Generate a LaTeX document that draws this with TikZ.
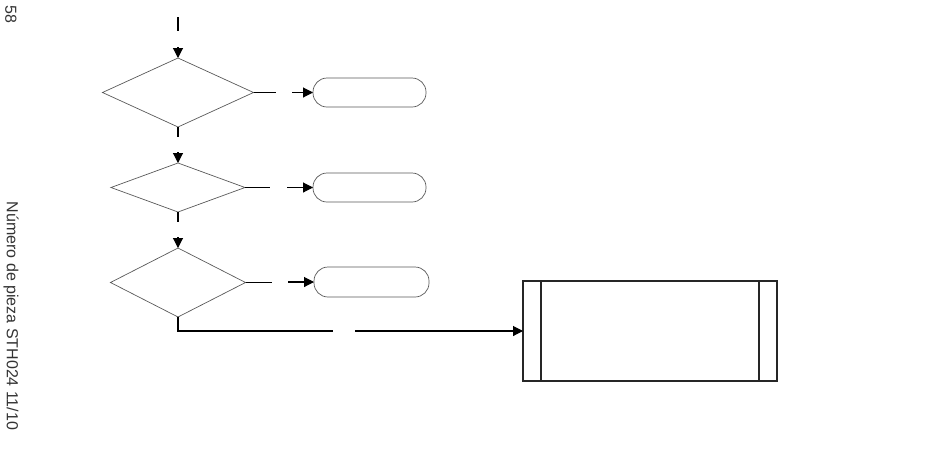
\documentclass[tikz,border=0pt]{standalone}
\usepackage{fontspec}
\setmainfont{Liberation Sans}
\usetikzlibrary{shapes,arrows.meta,positioning,calc}

\begin{document}
\begin{tikzpicture}[x=1pt,y=-1pt,
    decision/.style={diamond, draw=black!65, line width=0.7pt, inner sep=0pt, outer sep=0pt},
    terminal/.style={rectangle, draw=black!65, line width=0.7pt, rounded corners=14pt,
        minimum width=113pt, minimum height=29pt, outer sep=0pt},
    subproc/.style={rectangle, draw=black!85, line width=1.1pt, minimum width=254pt,
        minimum height=100pt, outer sep=0pt},
    flow/.style={draw=black, line width=1.1pt},
    flowarrow/.style={flow, -{Triangle[length=10pt,width=10pt]}},
    margintext/.style={rotate=-90, font=\fontsize{16}{19}\selectfont, text=black!80}]
    \useasboundingbox (0,0) rectangle (950,472);

    % Margin
    \node[margintext] (page) at (11,14) {58};
    \node[margintext] (partno) at (11,316) {Número de pieza STH024 11/10};

    % Decisions
    \node[decision, minimum width=151pt, minimum height=69pt] (dec1) at (178,92.5) {};
    \node[decision, minimum width=134pt, minimum height=49pt] (dec2) at (178,187.5) {};
    \node[decision, minimum width=135pt, minimum height=69pt] (dec3) at (178,282.5) {};

    % Terminals
    \node[terminal] (term1) at (369.5,92.5) {};
    \node[terminal] (term2) at (369.5,187.5) {};
    \node[terminal, minimum width=115pt, minimum height=30pt] (term3) at (371.5,282) {};

    % Predefined process
    \node[subproc] (sub) at (650,331) {};
    \draw[black!85, line width=1.1pt] ([xshift=18pt]sub.north west) -- ([xshift=18pt]sub.south west);
    \draw[black!85, line width=1.1pt] ([xshift=-18pt]sub.north east) -- ([xshift=-18pt]sub.south east);

    % Entry
    \coordinate (start) at (178,17);
    \coordinate (startend) at (178,31);
    \draw[flow] (start) -- (startend);
    \draw[flowarrow] ($(dec1.north)+(0,-11)$) -- (dec1.north);

    % Down the column
    \draw[flow] (dec1.south) -- ++(0,10);
    \draw[flowarrow] ($(dec2.north)+(0,-11)$) -- (dec2.north);
    \draw[flow] (dec2.south) -- ++(0,10);
    \draw[flowarrow] ($(dec3.north)+(0,-11)$) -- (dec3.north);

    % To the terminals
    \draw[flow] (dec1.east) -- ++(22,0);
    \draw[flowarrow] ($(term1.west)+(-21,0)$) -- (term1.west);
    \draw[flow] (dec2.east) -- ++(25,0);
    \draw[flowarrow] ($(term2.west)+(-26,0)$) -- (term2.west);
    \draw[flow] (dec3.east) -- ++(26,0);
    \draw[flowarrow] ($(term3.west)+(-26,0)$) -- (term3.west);

    % To the predefined process
    \coordinate (gapl) at (333,331);
    \coordinate (gapr) at (355,331);
    \draw[flow] (dec3.south) |- (gapl);
    \draw[flowarrow] (gapr) -- (sub.west);
\end{tikzpicture}
\end{document}
